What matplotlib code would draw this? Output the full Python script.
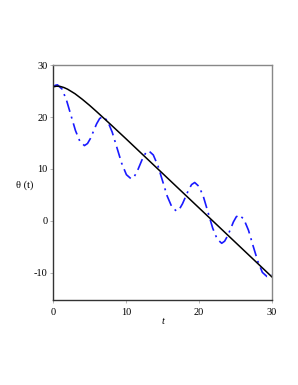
import numpy as np
import matplotlib
matplotlib.use("Agg")
import matplotlib.pyplot as plt

# black curve: theta(t)
t_black = [0, 0.5, 1, 1.5, 2, 3, 4, 5, 6, 8, 10, 15, 20, 25, 30]
theta_black = [25.8, 25.94, 25.88, 25.67, 25.35, 24.49, 23.42, 22.25, 21.0,
               18.42, 15.8, 9.15, 2.5, -4.15, -10.8]

# blue dash-dot curve
t_blue = [0, 0.3, 0.6, 1.22, 1.83, 2.45, 3.07, 3.68, 4.3,
          4.72, 5.13, 5.55, 5.97, 6.38, 6.8,
          7.45, 8.1, 8.75, 9.4, 10.05, 10.7,
          11.1, 11.5, 11.9, 12.3, 12.7, 13.1,
          13.73, 14.37, 15.0, 15.63, 16.27, 16.9,
          17.32, 17.73, 18.15, 18.57, 18.98, 19.4,
          20.02, 20.63, 21.25, 21.87, 22.48, 23.1,
          23.5, 23.9, 24.3, 24.7, 25.1, 25.5,
          26.13, 26.77, 27.4, 28.03, 28.67, 29.3,
          29.65, 30]
theta_blue = [25.8, 26.1, 26.2, 25.4, 23.3, 20.35, 17.4, 15.3, 14.5,
              14.9, 15.9, 17.3, 18.7, 19.7, 20.1,
              19.3, 17.1, 14.1, 11.1, 8.9, 8.1,
              8.5, 9.45, 10.8, 12.15, 13.1, 13.5,
              12.7, 10.6, 7.7, 4.8, 2.7, 1.9,
              2.3, 3.3, 4.65, 6.0, 7.0, 7.4,
              6.6, 4.5, 1.55, -1.4, -3.5, -4.3,
              -3.9, -2.9, -1.6, -0.2, 0.8, 1.15,
              0.35, -1.8, -4.8, -7.7, -9.9, -10.7,
              -10.6, -10.4]

x_ticks = [0, 10, 20, 30]
y_ticks = [-10, 0, 10, 20, 30]
y_tick_labels = ["-10", "0", "10", "20", "30"]

plt.rcParams['font.family'] = ['Liberation Serif', 'DejaVu Serif']

fig = plt.figure(figsize=(2.98, 3.85), dpi=100)
ax = fig.add_axes([0.178, 0.221, 0.735, 0.610])

ax.plot(t_blue, theta_blue, color='#1a1aff', lw=1.2, linestyle=(0, (7, 3, 1.2, 3)))
ax.plot(t_black, theta_black, color='black', lw=1.1)

ax.set_xlim(0, 30)
ax.set_ylim(-15.2, 30)
ax.set_xticks(x_ticks)
ax.set_yticks(y_ticks)
ax.set_yticklabels(y_tick_labels)
ax.tick_params(labelsize=7.5, length=2, width=0.5, color='#999999', pad=2)
ax.tick_params(axis='x', pad=4)

for side in ['left', 'bottom']:
    ax.spines[side].set_color('#333333')
    ax.spines[side].set_linewidth(1.0)
for side in ['top', 'right']:
    ax.spines[side].set_color('#888888')
    ax.spines[side].set_linewidth(1.0)

ax.set_xlabel('t', fontsize=7.5, style='italic', labelpad=0)
ax.set_ylabel('θ (t)', fontsize=7.5, rotation=0, labelpad=10)
ax.yaxis.set_label_coords(-0.13, 0.47)

fig.savefig('out.png', dpi=100)
